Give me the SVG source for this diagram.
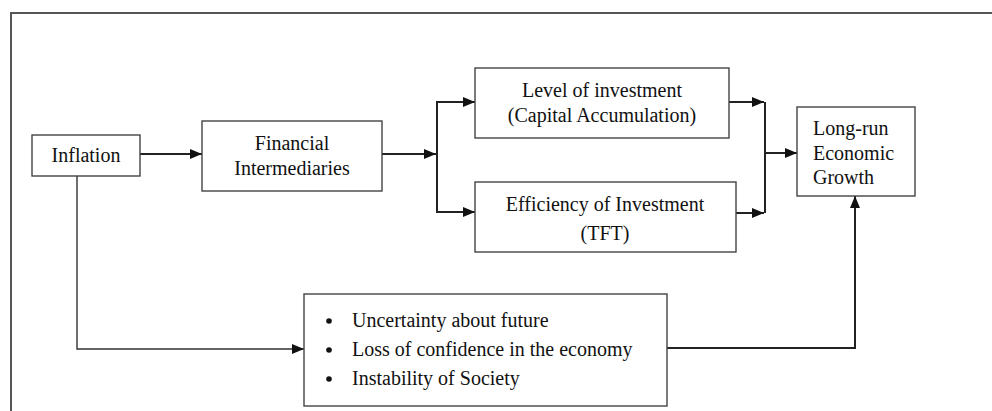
<svg xmlns="http://www.w3.org/2000/svg" width="992" height="411" viewBox="0 0 992 411">
<defs>
<marker id="ah" viewBox="0 0 12 10" refX="12" refY="5" markerWidth="12" markerHeight="10" markerUnits="userSpaceOnUse" orient="auto">
<path d="M0,0 L12,5 L0,10 Z" fill="#111"/>
</marker>
<style>
.box{fill:#fff;stroke:#444;stroke-width:1.4}
.t{font-family:"Liberation Serif","Times New Roman",serif;font-size:20px;fill:#111}
.c{text-anchor:middle}
.ln{fill:none;stroke:#222;stroke-width:2}
.thin{fill:none;stroke:#333;stroke-width:1.4}
</style>
</defs>
<rect width="992" height="411" fill="#fff"/>
<path d="M11,411 V13 H992" fill="none" stroke="#555" stroke-width="2"/>
<g id="connectors">
<path class="ln" d="M140,154 H202" marker-end="url(#ah)"/>
<path class="ln" d="M382,154 H436" marker-end="url(#ah)"/>
<path class="ln" d="M475,102 H437 V212 H475" marker-end="url(#ah)"/>
<path class="ln" d="M437,102 H475" marker-end="url(#ah)"/>
<path class="ln" d="M729,102 H764" marker-end="url(#ah)"/>
<path class="ln" d="M736,213 H764" marker-end="url(#ah)"/>
<path class="ln" d="M765,102 V213"/>
<path class="ln" d="M765,153 H797" marker-end="url(#ah)"/>
<path class="thin" d="M77,176 V349 H304" marker-end="url(#ah)"/>
<path class="ln" d="M667,348 H855 V196" marker-end="url(#ah)"/>
</g>
<g id="inflation">
<rect class="box" x="32" y="135" width="108" height="41"/>
<text class="t c" x="86" y="162">Inflation</text>
</g>
<g id="financial">
<rect class="box" x="202" y="121" width="180" height="70"/>
<text class="t c" x="292" y="150">Financial</text>
<text class="t c" x="292" y="175">Intermediaries</text>
</g>
<g id="level">
<rect class="box" x="475" y="68" width="254" height="70"/>
<text class="t c" x="602" y="97">Level of investment</text>
<text class="t c" x="602" y="122">(Capital Accumulation)</text>
</g>
<g id="efficiency">
<rect class="box" x="475" y="182" width="261" height="70"/>
<text class="t c" x="605" y="211">Efficiency of Investment</text>
<text class="t c" x="605" y="240">(TFT)</text>
</g>
<g id="growth">
<rect class="box" x="797" y="107" width="118" height="89"/>
<text class="t" x="813" y="135">Long-run</text>
<text class="t" x="813" y="160">Economic</text>
<text class="t" x="813" y="184">Growth</text>
</g>
<g id="effects">
<rect class="box" x="304" y="294" width="363" height="112"/>
<circle cx="329" cy="321" r="2.8" fill="#111"/>
<circle cx="329" cy="350" r="2.8" fill="#111"/>
<circle cx="329" cy="379" r="2.8" fill="#111"/>
<text class="t" x="352" y="327">Uncertainty about future</text>
<text class="t" x="352" y="356">Loss of confidence in the economy</text>
<text class="t" x="352" y="385">Instability of Society</text>
</g>
</svg>
